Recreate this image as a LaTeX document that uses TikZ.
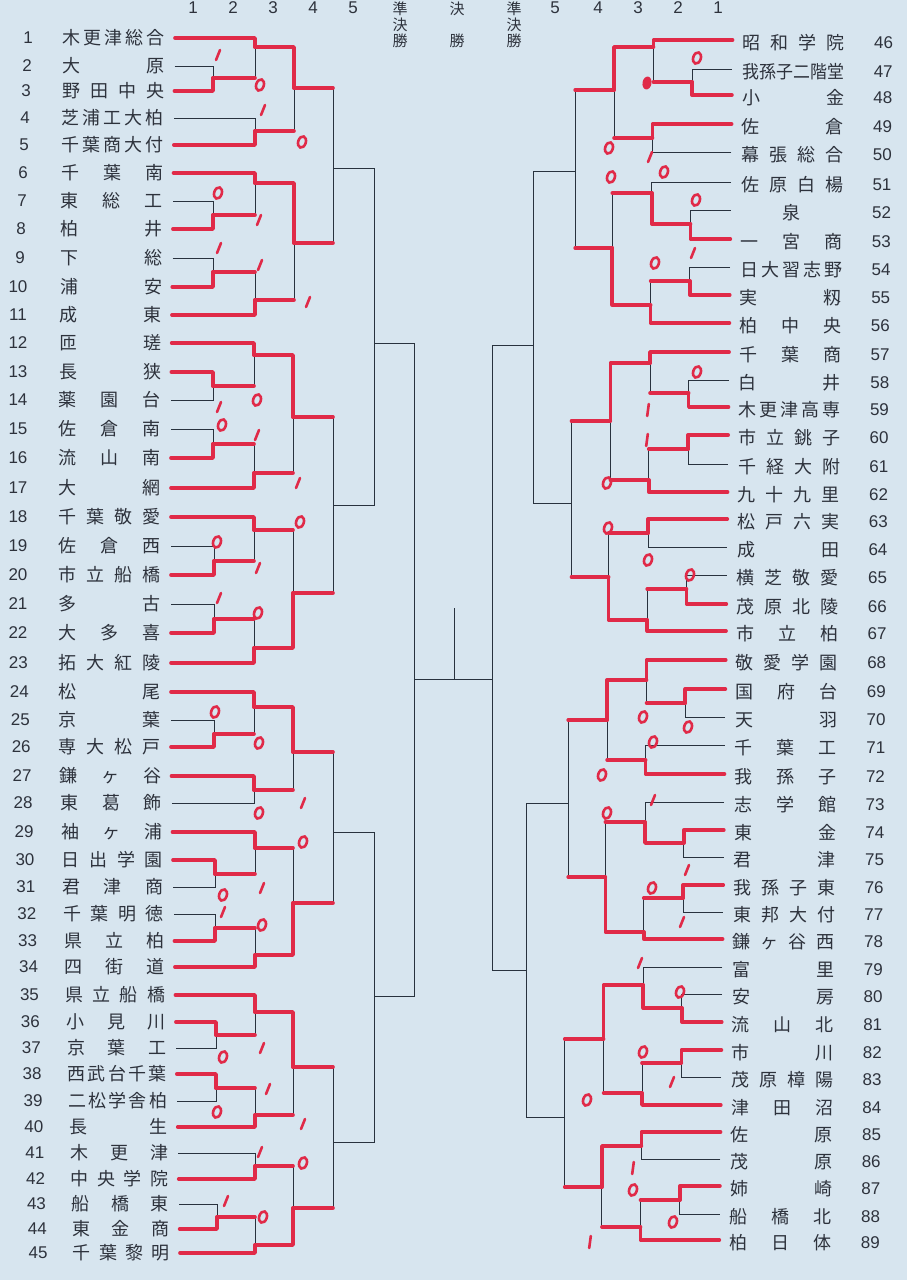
\documentclass[tikz,border=0pt]{standalone}
\usepackage{fontspec}
\usepackage{graphicx}
\newfontfamily\jpf{Noto Sans CJK JP}
\newfontfamily\numf{Liberation Sans}
\definecolor{paper}{RGB}{215,229,239}
\definecolor{ink}{RGB}{45,50,60}
\definecolor{brk}{RGB}{40,50,62}
\definecolor{pen}{RGB}{224,42,72}
\tikzset{
 tname/.style={inner sep=0pt, text=ink, font=\jpf\fontsize{18}{18}\selectfont},
 tnum/.style={inner sep=0pt, text=ink, font=\numf\fontsize{17}{17}\selectfont},
 hdr/.style={inner sep=0pt, text=ink, font=\jpf\fontsize{15}{15}\selectfont},
 br/.style={draw=brk, line width=0.9pt},
 win/.style={draw=pen, line width=3.6pt, line cap=round, line join=round},
 pmark/.style={draw=pen, line width=2.6pt, line cap=round},
}
\newcommand\lteam[3]{%
 \pgfmathsetmacro\xe{(#2<400) ? 165-4*(#2-38)/362 : ((#2<750) ? 161 : 161+9*(#2-750)/503)}%
 \pgfmathsetmacro\wn{(#2<750) ? 102 : 102-5*(#2-750)/503}%
 \pgfmathsetmacro\xn{(#1<10) ? 28-8*(#2-38)/220 : ((#2<650) ? 18 : 18+20*(#2-650)/600)}%
 \node[tname, anchor=east] (L#1) at (\xe,#2) {\makebox[\wn pt][s]{#3}};
 \node[tnum] (N#1) at (\xn,#2) {#1};
 \coordinate (a#1) at ([xshift=10pt]L#1.east);
}
\newcommand\rteam[3]{%
 \node[tname, anchor=west] (R#1) at (743,#2) {\makebox[102pt][s]{#3}};
 \node[tnum] (N#1) at (884,#2) {#1};
 \coordinate (a#1) at (733,#2-3);
}
\newcommand\bmatch[3]{\draw[br] (#1) -| (#3); \draw[br] (#2) -| (#3);}
\newcommand\rwin[2]{\draw[win] (#1) -| (#2);}
\newcommand\rhor[2]{\draw[win] (#1) -- (#1 -| #2);}
\newcommand\markO[2]{\draw[pmark] (#1,#2) ellipse [x radius=3.8pt, y radius=5.8pt, rotate=-18];}
\newcommand\markS[2]{\draw[pmark] (#1-2,#2+5) -- (#1+2,#2-5);}
\newcommand\markV[2]{\draw[pmark] (#1-0.8,#2+6) -- (#1+0.8,#2-6);}
\begin{document}
\begin{tikzpicture}[x=1pt,y=-1pt]
\fill[paper] (0,0) rectangle (907,1280);
\useasboundingbox (0,0) rectangle (907,1280);
% header
\foreach \x/\t in {193/1,233/2,273/3,313/4,353/5,718/1,678/2,638/3,598/4,555/5}
  \node[tnum] (h\x) at (\x,7.5) {\t};
\node[hdr] (hl1) at (400,8.5) {準};
\node[hdr] (hl2) at (400,24.5) {決};
\node[hdr] (hl3) at (400,41) {勝};
\node[hdr] (hc1) at (457,8.5) {決};
\node[hdr] (hc3) at (457,41) {勝};
\node[hdr] (hr1) at (514,8.5) {準};
\node[hdr] (hr2) at (514,24.5) {決};
\node[hdr] (hr3) at (514,41) {勝};
% left teams
\lteam{1}{38}{木\hfill 更\hfill 津\hfill 総\hfill 合}
\lteam{2}{66}{大\hfill 原}
\lteam{3}{91}{野\hfill 田\hfill 中\hfill 央}
\lteam{4}{118}{芝\hfill 浦\hfill 工\hfill 大\hfill 柏}
\lteam{5}{145}{千\hfill 葉\hfill 商\hfill 大\hfill 付}
\lteam{6}{173}{千\hfill 葉\hfill 南}
\lteam{7}{201}{東\hfill 総\hfill 工}
\lteam{8}{229}{柏\hfill 井}
\lteam{9}{258}{下\hfill 総}
\lteam{10}{287}{浦\hfill 安}
\lteam{11}{315}{成\hfill 東}
\lteam{12}{343}{匝\hfill 瑳}
\lteam{13}{372}{長\hfill 狭}
\lteam{14}{400}{薬\hfill 園\hfill 台}
\lteam{15}{429}{佐\hfill 倉\hfill 南}
\lteam{16}{458}{流\hfill 山\hfill 南}
\lteam{17}{488}{大\hfill 網}
\lteam{18}{517}{千\hfill 葉\hfill 敬\hfill 愛}
\lteam{19}{546}{佐\hfill 倉\hfill 西}
\lteam{20}{575}{市\hfill 立\hfill 船\hfill 橋}
\lteam{21}{604}{多\hfill 古}
\lteam{22}{633}{大\hfill 多\hfill 喜}
\lteam{23}{663}{拓\hfill 大\hfill 紅\hfill 陵}
\lteam{24}{692}{松\hfill 尾}
\lteam{25}{720}{京\hfill 葉}
\lteam{26}{747}{専\hfill 大\hfill 松\hfill 戸}
\lteam{27}{776}{鎌\hfill ヶ\hfill 谷}
\lteam{28}{803}{東\hfill 葛\hfill 飾}
\lteam{29}{832}{袖\hfill ヶ\hfill 浦}
\lteam{30}{860}{日\hfill 出\hfill 学\hfill 園}
\lteam{31}{887}{君\hfill 津\hfill 商}
\lteam{32}{914}{千\hfill 葉\hfill 明\hfill 徳}
\lteam{33}{941}{県\hfill 立\hfill 柏}
\lteam{34}{967}{四\hfill 街\hfill 道}
\lteam{35}{995}{県\hfill 立\hfill 船\hfill 橋}
\lteam{36}{1022}{小\hfill 見\hfill 川}
\lteam{37}{1048}{京\hfill 葉\hfill 工}
\lteam{38}{1074}{西\hfill 武\hfill 台\hfill 千\hfill 葉}
\lteam{39}{1101}{二\hfill 松\hfill 学\hfill 舎\hfill 柏}
\lteam{40}{1127}{長\hfill 生}
\lteam{41}{1153}{木\hfill 更\hfill 津}
\lteam{42}{1179}{中\hfill 央\hfill 学\hfill 院}
\lteam{43}{1204}{船\hfill 橋\hfill 東}
\lteam{44}{1229}{東\hfill 金\hfill 商}
\lteam{45}{1253}{千\hfill 葉\hfill 黎\hfill 明}
% left match points
\coordinate (m23) at (213,78);
\coordinate (m78) at (213,215);
\coordinate (m910) at (213,272);
\coordinate (m1314) at (213,386);
\coordinate (m1516) at (213,444);
\coordinate (m1920) at (214,561);
\coordinate (m2122) at (214,619);
\coordinate (m2526) at (214,734);
\coordinate (m3031) at (215,874);
\coordinate (m3233) at (215,928);
\coordinate (m3637) at (216,1035);
\coordinate (m3839) at (216,1088);
\coordinate (m4344) at (217,1217);
\coordinate (m1) at (255,47);
\coordinate (m45) at (255,131);
\coordinate (m6) at (255,183);
\coordinate (m11) at (255,300);
\coordinate (m12) at (254,355);
\coordinate (m17) at (254,473);
\coordinate (m18) at (254,530);
\coordinate (m23b) at (254,648);
\coordinate (m24) at (254,707);
\coordinate (m2728) at (254,790);
\coordinate (m29) at (255,848);
\coordinate (m34) at (255,955);
\coordinate (m35) at (255,1012);
\coordinate (m40) at (255,1115);
\coordinate (m4142) at (255,1166);
\coordinate (m45b) at (255,1245);
\coordinate (n1) at (294,88);
\coordinate (n2) at (294,243);
\coordinate (n3) at (293,417);
\coordinate (n4) at (293,593);
\coordinate (n5) at (293,752);
\coordinate (n6) at (293,903);
\coordinate (n7) at (293,1067);
\coordinate (n8) at (293,1208);
\coordinate (p1) at (333,168);
\coordinate (p2) at (333,505);
\coordinate (p3) at (333,832);
\coordinate (p4) at (333,1142);
\coordinate (q1) at (374,343);
\coordinate (q2) at (374,996);
\coordinate (lf) at (414,679);
\coordinate (ctop) at (454,608);
\coordinate (cmid) at (454,679);
% right side (photo slant)
\begin{scope}[xslant=0.011]
\rteam{46}{43}{昭\hfill 和\hfill 学\hfill 院}
\rteam{47}{72}{\hfill\scalebox{0.94}[1]{我孫子二階堂}\hfill}
\rteam{48}{98}{小\hfill 金}
\rteam{49}{127}{佐\hfill 倉}
\rteam{50}{155}{幕\hfill 張\hfill 総\hfill 合}
\rteam{51}{185}{佐\hfill 原\hfill 白\hfill 楊}
\rteam{52}{213}{\hfill 泉\hfill}
\rteam{53}{242}{一\hfill 宮\hfill 商}
\rteam{54}{270}{日\hfill 大\hfill 習\hfill 志\hfill 野}
\rteam{55}{298}{実\hfill 籾}
\rteam{56}{326}{柏\hfill 中\hfill 央}
\rteam{57}{355}{千\hfill 葉\hfill 商}
\rteam{58}{383}{白\hfill 井}
\rteam{59}{410}{木\hfill 更\hfill 津\hfill 高\hfill 専}
\rteam{60}{438}{市\hfill 立\hfill 銚\hfill 子}
\rteam{61}{467}{千\hfill 経\hfill 大\hfill 附}
\rteam{62}{495}{九\hfill 十\hfill 九\hfill 里}
\rteam{63}{522}{松\hfill 戸\hfill 六\hfill 実}
\rteam{64}{550}{成\hfill 田}
\rteam{65}{578}{横\hfill 芝\hfill 敬\hfill 愛}
\rteam{66}{607}{茂\hfill 原\hfill 北\hfill 陵}
\rteam{67}{634}{市\hfill 立\hfill 柏}
\rteam{68}{663}{敬\hfill 愛\hfill 学\hfill 園}
\rteam{69}{692}{国\hfill 府\hfill 台}
\rteam{70}{720}{天\hfill 羽}
\rteam{71}{748}{千\hfill 葉\hfill 工}
\rteam{72}{777}{我\hfill 孫\hfill 子}
\rteam{73}{805}{志\hfill 学\hfill 館}
\rteam{74}{833}{東\hfill 金}
\rteam{75}{860}{君\hfill 津}
\rteam{76}{888}{我\hfill 孫\hfill 子\hfill 東}
\rteam{77}{915}{東\hfill 邦\hfill 大\hfill 付}
\rteam{78}{942}{鎌\hfill ヶ\hfill 谷\hfill 西}
\rteam{79}{970}{富\hfill 里}
\rteam{80}{997}{安\hfill 房}
\rteam{81}{1025}{流\hfill 山\hfill 北}
\rteam{82}{1053}{市\hfill 川}
\rteam{83}{1080}{茂\hfill 原\hfill 樟\hfill 陽}
\rteam{84}{1108}{津\hfill 田\hfill 沼}
\rteam{85}{1135}{佐\hfill 原}
\rteam{86}{1162}{茂\hfill 原}
\rteam{87}{1189}{姉\hfill 崎}
\rteam{88}{1217}{船\hfill 橋\hfill 北}
\rteam{89}{1243}{柏\hfill 日\hfill 体}
\coordinate (s4748) at (693,82);
\coordinate (s5253) at (693,224);
\coordinate (s5455) at (693,281);
\coordinate (s5859) at (693,393);
\coordinate (s6061) at (693,449);
\coordinate (s6566) at (693,589);
\coordinate (s6970) at (693,703);
\coordinate (s7475) at (693,843);
\coordinate (s7677) at (693,898);
\coordinate (s8081) at (693,1008);
\coordinate (s8283) at (693,1063);
\coordinate (s8788) at (693,1200);
\coordinate (t46) at (654,47);
\coordinate (t4950) at (654,138);
\coordinate (t51) at (654,193);
\coordinate (t56) at (654,305);
\coordinate (t57) at (654,363);
\coordinate (t62) at (654,480);
\coordinate (t6364) at (654,533);
\coordinate (t67) at (654,620);
\coordinate (t68) at (654,680);
\coordinate (t7172) at (654,760);
\coordinate (t73) at (654,822);
\coordinate (t78) at (654,932);
\coordinate (t79) at (654,985);
\coordinate (t84) at (654,1093);
\coordinate (t8586) at (654,1146);
\coordinate (t89) at (654,1227);
\coordinate (u1) at (615,90);
\coordinate (u2) at (615,248);
\coordinate (u3) at (615,421);
\coordinate (u4) at (615,577);
\coordinate (u5) at (615,720);
\coordinate (u6) at (615,877);
\coordinate (u7) at (615,1039);
\coordinate (u8) at (615,1187);
\coordinate (v1) at (577,171);
\coordinate (v2) at (577,503);
\coordinate (v3) at (577,803);
\coordinate (v4) at (577,1117);
\coordinate (w1) at (537,345);
\coordinate (w2) at (537,970);
\coordinate (rf) at (500,679);
\end{scope}
% ---- black bracket, left
\bmatch{a2}{a3}{m23}\bmatch{a7}{a8}{m78}\bmatch{a9}{a10}{m910}
\bmatch{a13}{a14}{m1314}\bmatch{a15}{a16}{m1516}\bmatch{a19}{a20}{m1920}
\bmatch{a21}{a22}{m2122}\bmatch{a25}{a26}{m2526}\bmatch{a30}{a31}{m3031}
\bmatch{a32}{a33}{m3233}\bmatch{a36}{a37}{m3637}\bmatch{a38}{a39}{m3839}
\bmatch{a43}{a44}{m4344}
\bmatch{a1}{m23}{m1}\bmatch{a4}{a5}{m45}\bmatch{a6}{m78}{m6}
\bmatch{m910}{a11}{m11}\bmatch{a12}{m1314}{m12}\bmatch{m1516}{a17}{m17}
\bmatch{a18}{m1920}{m18}\bmatch{m2122}{a23}{m23b}\bmatch{a24}{m2526}{m24}
\bmatch{a27}{a28}{m2728}\bmatch{a29}{m3031}{m29}\bmatch{m3233}{a34}{m34}
\bmatch{a35}{m3637}{m35}\bmatch{m3839}{a40}{m40}\bmatch{a41}{a42}{m4142}
\bmatch{m4344}{a45}{m45b}
\bmatch{m1}{m45}{n1}\bmatch{m6}{m11}{n2}\bmatch{m12}{m17}{n3}\bmatch{m18}{m23b}{n4}
\bmatch{m24}{m2728}{n5}\bmatch{m29}{m34}{n6}\bmatch{m35}{m40}{n7}\bmatch{m4142}{m45b}{n8}
\bmatch{n1}{n2}{p1}\bmatch{n3}{n4}{p2}\bmatch{n5}{n6}{p3}\bmatch{n7}{n8}{p4}
\bmatch{p1}{p2}{q1}\bmatch{p3}{p4}{q2}\bmatch{q1}{q2}{lf}
% ---- black bracket, right
\bmatch{a47}{a48}{s4748}\bmatch{a52}{a53}{s5253}\bmatch{a54}{a55}{s5455}
\bmatch{a58}{a59}{s5859}\bmatch{a60}{a61}{s6061}\bmatch{a65}{a66}{s6566}
\bmatch{a69}{a70}{s6970}\bmatch{a74}{a75}{s7475}\bmatch{a76}{a77}{s7677}
\bmatch{a80}{a81}{s8081}\bmatch{a82}{a83}{s8283}\bmatch{a87}{a88}{s8788}
\bmatch{a46}{s4748}{t46}\bmatch{a49}{a50}{t4950}\bmatch{a51}{s5253}{t51}
\bmatch{s5455}{a56}{t56}\bmatch{a57}{s5859}{t57}\bmatch{s6061}{a62}{t62}
\bmatch{a63}{a64}{t6364}\bmatch{s6566}{a67}{t67}\bmatch{a68}{s6970}{t68}
\bmatch{a71}{a72}{t7172}\bmatch{a73}{s7475}{t73}\bmatch{s7677}{a78}{t78}
\bmatch{a79}{s8081}{t79}\bmatch{s8283}{a84}{t84}\bmatch{a85}{a86}{t8586}
\bmatch{s8788}{a89}{t89}
\bmatch{t46}{t4950}{u1}\bmatch{t51}{t56}{u2}\bmatch{t57}{t62}{u3}\bmatch{t6364}{t67}{u4}
\bmatch{t68}{t7172}{u5}\bmatch{t73}{t78}{u6}\bmatch{t79}{t84}{u7}\bmatch{t8586}{t89}{u8}
\bmatch{u1}{u2}{v1}\bmatch{u3}{u4}{v2}\bmatch{u5}{u6}{v3}\bmatch{u7}{u8}{v4}
\bmatch{v1}{v2}{w1}\bmatch{v3}{v4}{w2}\bmatch{w1}{w2}{rf}
% ---- final
\draw[br] (lf) -- (rf);
\draw[br] (ctop) -- (cmid);
% ---- red, left
\rwin{a3}{m23}\rwin{a8}{m78}\rwin{a10}{m910}\rwin{a13}{m1314}\rwin{a16}{m1516}
\rwin{a20}{m1920}\rwin{a22}{m2122}\rwin{a26}{m2526}\rwin{a30}{m3031}\rwin{a33}{m3233}
\rwin{a36}{m3637}\rwin{a38}{m3839}\rwin{a44}{m4344}
\rwin{a1}{m1}\rhor{m23}{m1}
\rwin{a5}{m45}
\rwin{a6}{m6}\rhor{m78}{m6}
\rwin{a11}{m11}\rhor{m910}{m11}
\rwin{a12}{m12}\rhor{m1314}{m12}
\rwin{a17}{m17}\rhor{m1516}{m17}
\rwin{a18}{m18}\rhor{m1920}{m18}
\rwin{a23}{m23b}\rhor{m2122}{m23b}
\rwin{a24}{m24}\rhor{m2526}{m24}
\rwin{a27}{m2728}
\rwin{a29}{m29}\rhor{m3031}{m29}
\rwin{a34}{m34}\rhor{m3233}{m34}
\rwin{a35}{m35}\rhor{m3637}{m35}
\rwin{a40}{m40}\rhor{m3839}{m40}
\rwin{a42}{m4142}
\rwin{a45}{m45b}\rhor{m4344}{m45b}
\rwin{m1}{n1}\rhor{m45}{n1}
\rwin{m6}{n2}\rhor{m11}{n2}
\rwin{m12}{n3}\rhor{m17}{n3}
\rwin{m23b}{n4}\rhor{m18}{n4}
\rwin{m24}{n5}\rhor{m2728}{n5}
\rwin{m34}{n6}\rhor{m29}{n6}
\rwin{m35}{n7}\rhor{m40}{n7}
\rwin{m45b}{n8}\rhor{m4142}{n8}
\rhor{n1}{p1}\rhor{n2}{p1}\rhor{n3}{p2}\rhor{n4}{p2}
\rhor{n5}{p3}\rhor{n6}{p3}\rhor{n7}{p4}\rhor{n8}{p4}
% ---- red, right
\rwin{a48}{s4748}\rwin{a53}{s5253}\rwin{a55}{s5455}\rwin{a59}{s5859}\rwin{a60}{s6061}
\rwin{a66}{s6566}\rwin{a69}{s6970}\rwin{a74}{s7475}\rwin{a76}{s7677}\rwin{a81}{s8081}
\rwin{a82}{s8283}\rwin{a87}{s8788}
\rwin{a46}{t46}\rhor{s4748}{t46}
\rwin{a49}{t4950}
\rwin{s5253}{t51}
\rwin{a56}{t56}\rhor{s5455}{t56}
\rwin{a57}{t57}\rhor{s5859}{t57}
\rwin{a62}{t62}\rhor{s6061}{t62}
\rwin{a63}{t6364}
\rwin{a67}{t67}\rhor{s6566}{t67}
\rwin{a68}{t68}\rhor{s6970}{t68}
\rwin{a72}{t7172}
\rwin{s7475}{t73}
\rwin{a78}{t78}\rhor{s7677}{t78}
\rwin{s8081}{t79}
\rwin{a84}{t84}\rhor{s8283}{t84}
\rwin{a85}{t8586}
\rwin{a89}{t89}\rhor{s8788}{t89}
\rwin{t46}{u1}\rhor{t4950}{u1}
\rwin{t56}{u2}\rhor{t51}{u2}
\rwin{t57}{u3}\rhor{t62}{u3}
\rwin{t67}{u4}\rhor{t6364}{u4}
\rwin{t68}{u5}\rhor{t7172}{u5}
\rwin{t78}{u6}\rhor{t73}{u6}
\rwin{t79}{u7}\rhor{t84}{u7}
\rwin{t8586}{u8}\rhor{t89}{u8}
\rhor{u1}{v1}\rhor{u2}{v1}\rhor{u3}{v2}\rhor{u4}{v2}
\rhor{u5}{v3}\rhor{u6}{v3}\rhor{u7}{v4}\rhor{u8}{v4}
% ---- hand marks, left
\foreach \x/\y in {260/85,302/142,218/193,257/400,222/425,300/522,217/542,258/613,215/712,259/743,259/813,303/842,223/895,262/925,223/1057,217/1112,303/1163,263/1217}
  {\markO{\x}{\y}}
\foreach \x/\y in {218/55,263/110,259/220,219/248,260/265,308/302,219/407,257/435,298/483,258/568,219/598,303/803,262/888,223/912,262/1048,268/1089,303/1124,260/1152,226/1201}
  {\markS{\x}{\y}}
% ---- hand marks, right
\foreach \x/\y in {697/58,609/148,611/177,664/172,696/200,655/263,697/372,607/483,608/528,648/560,690/575,643/717,688/727,653/742,602/775,607/813,652/888,680/992,643/1052,587/1100,633/1190,673/1222}
  {\markO{\x}{\y}}
\fill[pen] (647,83) ellipse [x radius=4.5pt, y radius=6.5pt, rotate=-10];
\foreach \x/\y in {650/157,693/253,653/800,687/870,682/922,640/963,672/1082}
  {\markS{\x}{\y}}
\foreach \x/\y in {648/410,647/440,633/1168,590/1242}
  {\markV{\x}{\y}}
\end{tikzpicture}
\end{document}
